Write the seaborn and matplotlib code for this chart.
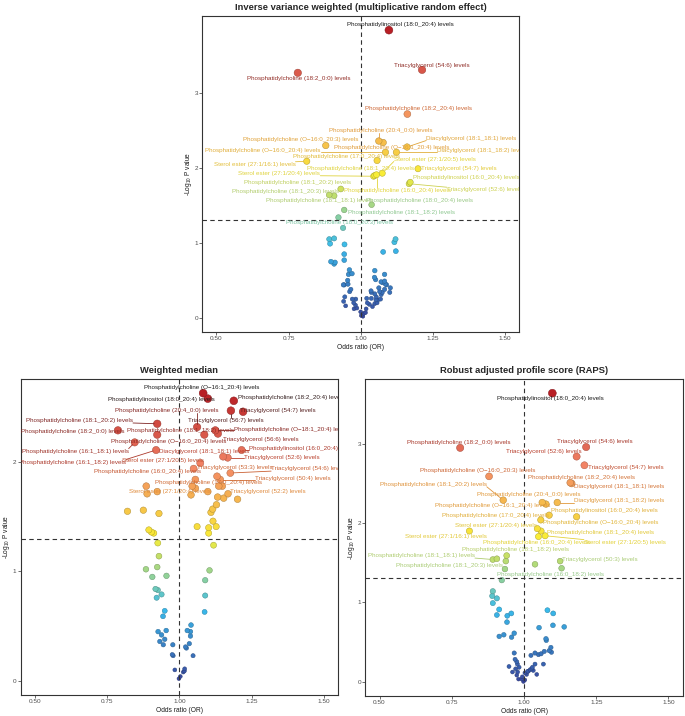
import numpy as np
import pandas as pd
import matplotlib
matplotlib.use("Agg")
import matplotlib.pyplot as plt
import seaborn as sns
from matplotlib.colors import LinearSegmentedColormap

# ---------------- data: Inverse variance weighted ----------------
ivw_names = [
    "Phosphatidylinositol (18:0_20:4) levels", "Triacylglycerol (54:6) levels",
    "Phosphatidylcholine (18:2_0:0) levels", "Phosphatidylcholine (18:2_20:4) levels",
    "Phosphatidylcholine (20:4_0:0) levels", "Phosphatidylcholine (O\u221216:0_20:3) levels",
    "Diacylglycerol (18:1_18:1) levels", "Phosphatidylcholine (O\u221216:0_20:4) levels",
    "Phosphatidylcholine (O\u221216:1_20:4) levels", "Diacylglycerol (18:1_18:2) levels",
    "Phosphatidylcholine (17:0_20:4) levels", "Sterol ester (27:1/20:5) levels",
    "Sterol ester (27:1/16:1) levels", "Phosphatidylcholine (18:1_20:4) levels",
    "Triacylglycerol (54:7) levels", "Sterol ester (27:1/20:4) levels",
    "Phosphatidylinositol (16:0_20:4) levels", "Phosphatidylcholine (18:1_20:2) levels",
    "Phosphatidylcholine (16:0_20:4) levels", "Triacylglycerol (52:6) levels",
    "Phosphatidylcholine (18:1_20:3) levels", "Phosphatidylcholine (18:1_18:1) levels",
    "Phosphatidylcholine (18:0_20:4) levels", "Phosphatidylcholine (18:1_18:2) levels",
    "Phosphatidylcholine (18:0_20:3) levels",
]
ivw_lab_or = [1.098, 1.213, 0.782, 1.162, 1.063, 0.879, 1.161, 1.086, 1.078, 1.124,
              1.057, 1.075, 0.813, 1.049, 1.199, 1.045, 1.172, 0.931, 1.055, 1.168,
              0.891, 0.908, 1.038, 0.943, 0.923]
ivw_lab_lp = [3.84, 3.31, 3.27, 2.72, 2.36, 2.30, 2.28, 2.21, 2.34, 2.21,
              2.10, 1.93, 2.09, 1.90, 1.99, 1.89, 1.81, 1.72, 1.91, 1.79,
              1.64, 1.63, 1.51, 1.44, 1.34]
ivw_or = [0.939, 0.891, 0.908, 0.894, 0.944, 0.943, 0.943, 0.897, 0.911, 0.908,
          1.121, 1.117, 1.122, 1.078, 0.961, 0.958, 0.970, 0.943, 0.940, 0.956,
          0.966, 0.962, 0.945, 0.941, 0.971, 0.983, 0.976, 0.982, 0.977, 1.000,
          1.002, 1.008, 1.011, 1.017, 1.019, 1.023, 1.021, 1.037, 1.036, 1.041,
          1.049, 1.054, 1.053, 1.060, 1.057, 1.049, 1.048, 1.052, 1.049, 1.083,
          1.071, 1.076, 1.083, 1.090, 1.083, 1.075, 1.071, 1.069, 1.103, 1.101,
          1.063, 1.066, 1.086, 1.037, 0.955, 0.948, 0.987, 1.030]
ivw_lp = [1.20, 1.05, 1.06, 0.99, 0.98, 0.85, 0.77, 0.75, 0.74, 0.72,
          1.05, 1.01, 0.89, 0.88, 0.64, 0.58, 0.59, 0.44, 0.44, 0.45,
          0.38, 0.35, 0.28, 0.22, 0.25, 0.25, 0.20, 0.17, 0.12, 0.08,
          0.03, 0.02, 0.06, 0.07, 0.12, 0.20, 0.26, 0.26, 0.36, 0.15,
          0.32, 0.28, 0.24, 0.24, 0.20, 0.19, 0.54, 0.51, 0.63, 0.58,
          0.48, 0.47, 0.49, 0.44, 0.38, 0.34, 0.31, 0.25, 0.40, 0.34,
          0.40, 0.35, 0.45, 0.34, 0.50, 0.16, 0.13, 0.18]

# ---------------- data: Weighted median ----------------
wm_names = [
    "Phosphatidylcholine (O\u221216:1_20:4) levels", "Phosphatidylinositol (18:0_20:4) levels",
    "Phosphatidylcholine (18:2_20:4) levels", "Phosphatidylcholine (20:4_0:0) levels",
    "Triacylglycerol (54:7) levels", "Triacylglycerol (56:7) levels",
    "Phosphatidylcholine (18:1_20:2) levels", "Phosphatidylcholine (18:2_0:0) levels",
    "Phosphatidylcholine (18:1_18:2) levels", "Phosphatidylcholine (O\u221218:1_20:4) levels",
    "Triacylglycerol (56:6) levels", "Phosphatidylcholine (O\u221216:0_20:4) levels",
    "Phosphatidylcholine (16:1_18:1) levels", "Diacylglycerol (18:1_18:1) levels",
    "Phosphatidylcholine (16:1_18:2) levels", "Phosphatidylinositol (16:0_20:4) levels",
    "Triacylglycerol (52:6) levels", "Sterol ester (27:1/20:5) levels",
    "Phosphatidylcholine (16:0_20:4) levels", "Triacylglycerol (53:3) levels",
    "Triacylglycerol (54:6) levels", "Triacylglycerol (50:4) levels",
    "Phosphatidylcholine (17:0_20:4) levels", "Sterol ester (27:1/20:4) levels",
    "Triacylglycerol (52:2) levels",
]
wm_lab_or = [1.082, 1.098, 1.188, 1.061, 1.220, 1.178, 0.923, 0.787, 1.086, 1.124,
             1.133, 0.923, 0.845, 1.151, 0.919, 1.215, 1.167, 1.072, 1.049, 1.130,
             1.176, 1.141, 1.055, 1.040, 1.168]
wm_lab_lp = [2.63, 2.58, 2.56, 2.32, 2.46, 2.47, 2.35, 2.29, 2.25, 2.29,
             2.26, 2.25, 2.18, 2.05, 2.11, 2.11, 2.04, 1.99, 1.94, 1.87,
             1.90, 1.84, 1.84, 1.70, 1.71]
wm_or = [0.885, 0.888, 0.923, 0.820, 0.875, 0.929, 0.894, 0.903, 0.911, 0.925,
         0.929, 0.923, 0.884, 0.906, 0.955, 0.917, 0.925, 0.921, 0.938, 0.949,
         0.943, 0.926, 0.954, 0.938, 0.949, 0.932, 0.944, 0.977, 0.975, 0.978,
         0.984, 0.998, 1.003, 1.013, 1.018, 1.017, 1.021, 1.024, 1.034, 1.047,
         1.027, 1.038, 1.040, 1.038, 1.087, 1.089, 1.089, 1.104, 1.118, 1.101,
         1.101, 1.127, 1.061, 1.116, 1.109, 1.115, 1.128, 1.132, 1.153, 1.201,
         1.098, 1.136, 1.148, 1.044, 1.055]
wm_lp = [1.78, 1.71, 1.73, 1.55, 1.56, 1.53, 1.38, 1.36, 1.35, 1.26,
         1.14, 1.04, 1.02, 0.95, 0.96, 0.84, 0.83, 0.76, 0.79, 0.64,
         0.59, 0.45, 0.46, 0.42, 0.38, 0.36, 0.33, 0.33, 0.24, 0.23,
         0.10, 0.02, 0.04, 0.08, 0.11, 0.09, 0.31, 0.30, 0.34, 0.23,
         0.46, 0.45, 0.51, 0.41, 0.63, 0.78, 0.92, 1.01, 1.24, 1.35,
         1.40, 1.41, 1.41, 1.46, 1.54, 1.57, 1.61, 1.68, 1.67, 1.66,
         1.73, 1.78, 1.78, 1.78, 1.76]

# ---------------- data: RAPS ----------------
raps_names = [
    "Phosphatidylinositol (18:0_20:4) levels", "Phosphatidylcholine (18:2_0:0) levels",
    "Triacylglycerol (54:6) levels", "Triacylglycerol (52:6) levels",
    "Triacylglycerol (54:7) levels", "Phosphatidylcholine (O\u221216:0_20:3) levels",
    "Phosphatidylcholine (18:2_20:4) levels", "Diacylglycerol (18:1_18:1) levels",
    "Phosphatidylcholine (18:1_20:2) levels", "Phosphatidylcholine (20:4_0:0) levels",
    "Diacylglycerol (18:1_18:2) levels", "Phosphatidylcholine (O\u221216:1_20:4) levels",
    "Phosphatidylinositol (16:0_20:4) levels", "Phosphatidylcholine (17:0_20:4) levels",
    "Phosphatidylcholine (O\u221216:0_20:4) levels", "Sterol ester (27:1/20:4) levels",
    "Phosphatidylcholine (18:1_20:4) levels", "Sterol ester (27:1/16:1) levels",
    "Phosphatidylcholine (16:0_20:4) levels", "Sterol ester (27:1/20:5) levels",
    "Phosphatidylcholine (18:1_18:2) levels", "Phosphatidylcholine (18:1_18:1) levels",
    "Triacylglycerol (50:3) levels", "Phosphatidylcholine (18:1_20:3) levels",
    "Phosphatidylcholine (16:0_18:2) levels",
]
raps_lab_or = [1.098, 0.779, 1.215, 1.182, 1.209, 0.879, 1.160, 1.165, 0.928, 1.063,
               1.115, 1.076, 1.182, 1.087, 1.058, 1.046, 1.059, 0.811, 1.050, 1.073,
               0.940, 0.892, 1.125, 0.937, 0.934]
raps_lab_lp = [3.64, 2.95, 2.96, 2.84, 2.73, 2.59, 2.51, 2.50, 2.29, 2.26,
               2.26, 2.24, 2.08, 2.10, 2.04, 1.93, 1.90, 1.90, 1.83, 1.84,
               1.59, 1.54, 1.52, 1.52, 1.42]
raps_or = [0.906, 1.038, 1.130, 0.923, 0.892, 0.890, 0.906, 0.892, 0.914, 0.906,
           0.942, 0.956, 0.941, 0.914, 0.930, 0.966, 0.957, 1.081, 1.101, 1.100,
           1.052, 1.139, 1.076, 1.077, 1.087, 1.093, 1.095, 1.070, 1.059, 0.966,
           0.969, 0.975, 0.977, 0.971, 0.948, 0.960, 0.978, 0.983, 0.975, 0.992,
           0.998, 1.003, 1.009, 1.015, 1.021, 1.027, 1.032, 1.029, 1.038, 1.024,
           1.038, 1.050, 1.067, 1.044, 0.994, 1.003, 1.013, 0.981]
raps_lp = [1.55, 1.48, 1.43, 1.28, 1.14, 1.08, 1.05, 0.99, 0.91, 0.84,
           0.83, 0.86, 0.75, 0.57, 0.59, 0.61, 0.56, 0.90, 0.86, 0.71,
           0.68, 0.69, 0.54, 0.52, 0.39, 0.43, 0.37, 0.38, 0.35, 0.36,
           0.28, 0.25, 0.22, 0.16, 0.19, 0.12, 0.12, 0.18, 0.08, 0.03,
           0.00, 0.02, 0.09, 0.13, 0.15, 0.16, 0.14, 0.18, 0.22, 0.33,
           0.36, 0.34, 0.22, 0.09, 0.06, 0.11, 0.13, 0.03]

# ---------------- layout: repelled label centres (OR, -log10 P) ----------------
IVW_LABEL_XY = [(1.138, 3.91), (1.246, 3.37), (0.785, 3.19), (1.202, 2.80), (1.071, 2.50),
                (0.793, 2.38), (1.384, 2.40), (0.661, 2.24), (1.109, 2.28), (1.42, 2.24),
                (0.951, 2.16), (1.257, 2.12), (0.632, 2.05), (0.998, 1.99), (1.34, 1.99),
                (0.718, 1.93), (1.366, 1.87), (0.782, 1.81), (1.129, 1.70), (1.43, 1.71),
                (0.738, 1.68), (0.856, 1.56), (1.205, 1.57), (1.141, 1.40), (0.928, 1.27)]
WM_LABEL_XY = [(1.076, 2.68), (0.937, 2.57), (1.387, 2.59), (0.955, 2.47), (1.341, 2.47),
               (1.162, 2.38), (0.654, 2.38), (0.630, 2.28), (1.003, 2.29), (1.39, 2.30),
               (1.283, 2.21), (0.961, 2.19), (0.639, 2.10), (1.084, 2.10), (0.629, 2.00),
               (1.424, 2.12), (1.354, 2.04), (0.943, 2.01), (0.888, 1.91), (1.193, 1.95),
               (1.448, 1.94), (1.393, 1.85), (1.099, 1.81), (0.967, 1.73), (1.305, 1.73)]
RAPS_LABEL_XY = [(1.092, 3.57), (0.773, 3.02), (1.245, 3.03), (1.068, 2.90), (1.352, 2.70),
                 (0.838, 2.66), (1.198, 2.57), (1.330, 2.46), (0.686, 2.49), (1.015, 2.36),
                 (1.330, 2.28), (0.890, 2.22), (1.277, 2.16), (0.900, 2.10), (1.264, 2.01),
                 (0.904, 1.97), (1.265, 1.88), (0.730, 1.83), (1.044, 1.76), (1.349, 1.76),
                 (0.972, 1.67), (0.645, 1.59), (1.264, 1.54), (0.743, 1.47), (1.092, 1.35)]

POINT_CMAP = LinearSegmentedColormap.from_list(
    "pt", ["#39489f", "#39bbec", "#f9ed36", "#f38466", "#b81f25"])
TEXT_CMAP = LinearSegmentedColormap.from_list(
    "tx", [(0, "#39489f"), (0.25, "#39bbec"), (0.5, "#e3d43a"), (0.65, "#df8a3c"),
           (0.78, "#b9402e"), (0.9, "#7c2424"), (1.0, "#1a1a1a")])

sns.set_theme(style="white")
plt.rcParams["font.family"] = ["Liberation Sans", "DejaVu Sans"]
plt.rcParams["mathtext.fontset"] = "custom"
plt.rcParams["mathtext.rm"] = "Liberation Sans"
plt.rcParams["mathtext.it"] = "Liberation Sans"


def build_frame(names, lab_or, lab_lp, rest_or, rest_lp):
    df = pd.DataFrame({
        "OR": list(lab_or) + list(rest_or),
        "logp": list(lab_lp) + list(rest_lp),
        "label": list(names) + [""] * len(rest_or),
    })
    df["t"] = df["logp"] / df["logp"].max()
    return df


def draw_panel(ax, df, label_xy, title):
    top = df["logp"].max()
    d = df.sort_values("logp")
    sns.scatterplot(data=d, x="OR", y="logp", hue="t", palette=POINT_CMAP, hue_norm=(0, 1),
                    size="t", sizes=(7, 32), size_norm=(0, 1), legend=False, ax=ax,
                    linewidth=0.35, zorder=2)
    coll = ax.collections[-1]
    fc = np.array(coll.get_facecolors())
    ec = fc.copy()
    ec[:, :3] *= 0.72
    coll.set_edgecolors(ec)

    ax.axvline(1.0, color="#333333", lw=0.8, ls=(0, (4, 3)), zorder=2.5)
    ax.axhline(-np.log10(0.05), color="#333333", lw=0.8, ls=(0, (4, 3)), zorder=2.5)

    ax.set_xlim(0.45, 1.55)
    ax.set_ylim(-0.05 * top, 1.05 * top)
    ax.set_xticks([0.5, 0.75, 1.0, 1.25, 1.5])
    ax.set_xticklabels(["0.50", "0.75", "1.00", "1.25", "1.50"])
    ax.set_yticks(range(0, int(top) + 1))
    ax.tick_params(axis="both", which="both", bottom=True, left=True, length=2, width=0.5,
                   color="#333333", labelsize=4.6, labelcolor="#4d4d4d", pad=1.0)
    for sp in ax.spines.values():
        sp.set_linewidth(0.8)
        sp.set_color("#333333")
    ax.set_xlabel("Odds ratio (OR)", fontsize=4.8, labelpad=2, color="#1a1a1a")
    ax.set_ylabel("-Log$_{10}$ P value", fontsize=4.8, labelpad=0.5, color="#1a1a1a")
    ax.set_title(title, fontsize=6.75, fontweight="bold", pad=4)

    lab = df[df["label"] != ""].reset_index(drop=True)
    texts = []
    for i, row in lab.iterrows():
        lx, ly = label_xy[i]
        c = TEXT_CMAP(row["t"])
        txt = ax.text(lx, ly, row["label"], ha="center", va="center", fontsize=4.5,
                      color=c, clip_on=True, zorder=4)
        texts.append((txt, row, c))
    return texts


def add_segments(ax, texts, renderer):
    inv = ax.transData.inverted()
    for txt, row, c in texts:
        bb = txt.get_window_extent(renderer)
        px, py = ax.transData.transform((row["OR"], row["logp"]))
        cx = min(max(px, bb.x0), bb.x1)
        cy = min(max(py, bb.y0), bb.y1)
        dist = np.hypot(px - cx, py - cy)
        if dist < 7:
            continue
        r = 3.0
        ex = px - (px - cx) * r / dist
        ey = py - (py - cy) * r / dist
        p0 = inv.transform((cx, cy))
        p1 = inv.transform((ex, ey))
        ax.plot([p0[0], p1[0]], [p0[1], p1[1]], color=c, lw=0.6, zorder=3.5, clip_on=True)


fig = plt.figure(figsize=(6.85, 7.16), dpi=100)
ax_ivw = fig.add_axes([0.295, 0.536, 0.463, 0.442])
ax_wm = fig.add_axes([0.030, 0.029, 0.464, 0.442])
ax_raps = fig.add_axes([0.533, 0.028, 0.464, 0.443])

ivw_df = build_frame(ivw_names, ivw_lab_or, ivw_lab_lp, ivw_or, ivw_lp)
wm_df = build_frame(wm_names, wm_lab_or, wm_lab_lp, wm_or, wm_lp)
raps_df = build_frame(raps_names, raps_lab_or, raps_lab_lp, raps_or, raps_lp)

t1 = draw_panel(ax_ivw, ivw_df, IVW_LABEL_XY, "Inverse variance weighted (multiplicative random effect)")
t2 = draw_panel(ax_wm, wm_df, WM_LABEL_XY, "Weighted median")
t3 = draw_panel(ax_raps, raps_df, RAPS_LABEL_XY, "Robust adjusted profile score (RAPS)")

fig.canvas.draw()
renderer = fig.canvas.get_renderer()
add_segments(ax_ivw, t1, renderer)
add_segments(ax_wm, t2, renderer)
add_segments(ax_raps, t3, renderer)

fig.savefig("out.png", dpi=100)
